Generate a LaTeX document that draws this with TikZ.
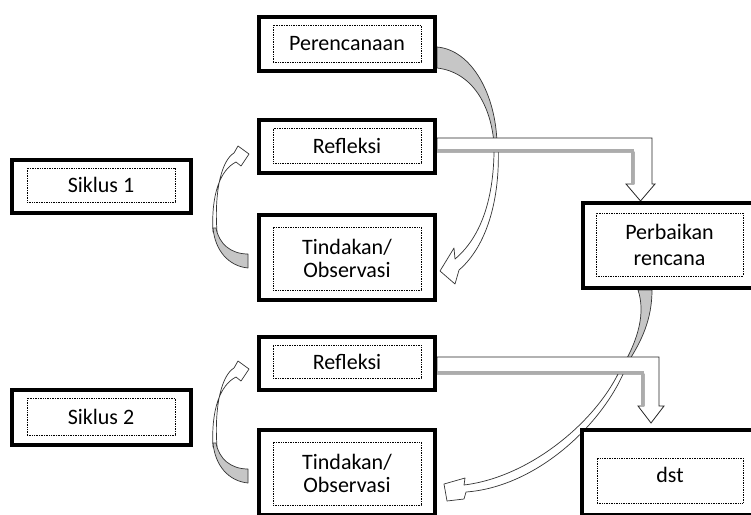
\documentclass[tikz,border=0pt]{standalone}
\usepackage{fontspec}
\setmainfont{Carlito}
\usetikzlibrary{backgrounds}

\tikzset{
  outerbox/.style={draw, line width=4pt, fill=white, inner sep=0pt},
  innerbox/.style={draw, densely dotted, line width=0.7pt, inner sep=0pt,
    align=center, font=\fontsize{22}{23}\selectfont},
  bandfront/.style={draw=black!80, line width=0.7pt, fill=white, line join=round},
  bandback/.style={draw=black!80, line width=0.7pt, fill=gray!45, line join=round},
  blockarrow/.style={draw=black!85, line width=0.8pt, fill=white, line join=miter},
  blockshade/.style={draw=gray!65, line width=2.5pt}
}

\begin{document}
\begin{tikzpicture}[x=1pt, y=-1pt]
  \useasboundingbox (0,0) rectangle (751,514);

  % boxes of the first cycle
  \node[outerbox, minimum width=176pt, minimum height=54pt] (plan) at (347,44) {};
  \node[innerbox, minimum width=148pt, minimum height=37pt] (plan txt) at (347,43.5) {Perencanaan};
  \node[outerbox, minimum width=176pt, minimum height=53pt] (ref1) at (347,146.5) {};
  \node[innerbox, minimum width=148pt, minimum height=35pt] (ref1 txt) at (347,145.5) {Refleksi};
  \node[outerbox, minimum width=176pt, minimum height=85pt] (tin1) at (347,257.5) {};
  \node[innerbox, minimum width=148pt, minimum height=63pt] (tin1 txt) at (347,258.5) {Tindakan/\\Observasi};
  \node[outerbox, minimum width=179pt, minimum height=53pt] (sik1) at (101.5,186.5) {};
  \node[innerbox, minimum width=148pt, minimum height=34pt] (sik1 txt) at (101,185) {Siklus 1};
  \node[outerbox, minimum width=185pt, minimum height=85pt] (per) at (675.5,245.5) {};
  \node[innerbox, minimum width=147pt, minimum height=63pt] (per txt) at (669.5,244.5) {Perbaikan\\[3pt]rencana};

  % boxes of the second cycle
  \node[outerbox, minimum width=176pt, minimum height=53pt] (ref2) at (347,363.5) {};
  \node[innerbox, minimum width=148pt, minimum height=33pt] (ref2 txt) at (347,361.5) {Refleksi};
  \node[outerbox, minimum width=176pt, minimum height=85pt] (tin2) at (347,472.5) {};
  \node[innerbox, minimum width=148pt, minimum height=63pt] (tin2 txt) at (347,473.5) {Tindakan/\\Observasi};
  \node[outerbox, minimum width=179pt, minimum height=55pt] (sik2) at (101.5,417.5) {};
  \node[innerbox, minimum width=148pt, minimum height=37pt] (sik2 txt) at (101,416.5) {Siklus 2};
  \node[outerbox, minimum width=186pt, minimum height=85pt] (dst) at (675,472.5) {};
  \node[innerbox, minimum width=146pt, minimum height=45pt] (dst txt) at (670,480.5) {\raisebox{12pt}{dst}};

  \begin{scope}[on background layer]
    \fill[white] (0,0) rectangle (751,514);

    % Perencanaan -> Tindakan/Observasi
    \begin{scope}[shift={(plan.east)}]
      \draw[bandfront] (57,98) .. controls (58,156) and (43,194) .. (18,215)
        -- (17,204) -- (3,227) -- (18,240) -- (22,226)
        .. controls (49,203) and (64,156) .. (61,98) -- cycle;
      \draw[bandback] (0,3) .. controls (35,6) and (59,51) .. (60,100)
        -- (57,100) .. controls (54,61) and (35,28) .. (0,24) -- cycle;
    \end{scope}

    % Tindakan/Observasi -> Refleksi
    \foreach \t in {tin1,tin2}{
      \begin{scope}[shift={(\t.west)}]
        \draw[bandfront] (-44,-25.5) .. controls (-46,-62.5) and (-37,-87.5) .. (-21,-95.5)
          -- (-16,-91.5) -- (-8,-103.5) -- (-19,-111.5) -- (-23,-104.5)
          .. controls (-35,-97.5) and (-43,-67.5) .. (-40,-25.5) -- cycle;
        \draw[bandback] (-9,10.5) .. controls (-29,8.5) and (-42,-7.5) .. (-44,-29.5)
          -- (-41,-29.5) .. controls (-38,-13.5) and (-26,-3.5) .. (-9,-3.5) -- cycle;
      \end{scope}
    }

    % Perbaikan rencana -> Tindakan/Observasi
    \begin{scope}[shift={(per.south)}]
      \draw[bandback] (-23.5,0) .. controls (-23.5,30) and (-34.5,52) .. (-47.5,72)
        -- (-50.5,72) .. controls (-38.5,50) and (-29.5,24) .. (-37.5,0) -- cycle;
      \draw[bandfront] (-56.5,82) .. controls (-80.5,132) and (-145.5,187) .. (-211.5,195)
        -- (-210.5,188) -- (-231.5,194) -- (-228.5,211) -- (-211.5,209) -- (-209.5,202)
        .. controls (-140.5,197) and (-75.5,137) .. (-51.5,82) -- cycle;
    \end{scope}

    % Refleksi -> Perbaikan rencana
    \begin{scope}[shift={(ref1.east)}]
      \draw[blockarrow] (0,-8.5) -- (215,-8.5) -- (215,37.5) -- (218,37.5) -- (203.5,54.5)
        -- (189,37.5) -- (197,37.5) -- (197,5.5) -- (0,5.5) -- cycle;
      \draw[blockshade] (0,4) -- (195.5,4) -- (195.5,37);
    \end{scope}

    % Refleksi -> dst
    \begin{scope}[shift={(ref2.east)}]
      \draw[blockarrow] (0,-6.5) -- (222,-6.5) -- (222,42.5) -- (227,42.5) -- (214,59.5)
        -- (201,42.5) -- (207,42.5) -- (207,10.5) -- (0,10.5) -- cycle;
      \draw[blockshade] (0,9) -- (205.5,9) -- (205.5,42);
    \end{scope}
  \end{scope}
\end{tikzpicture}
\end{document}
